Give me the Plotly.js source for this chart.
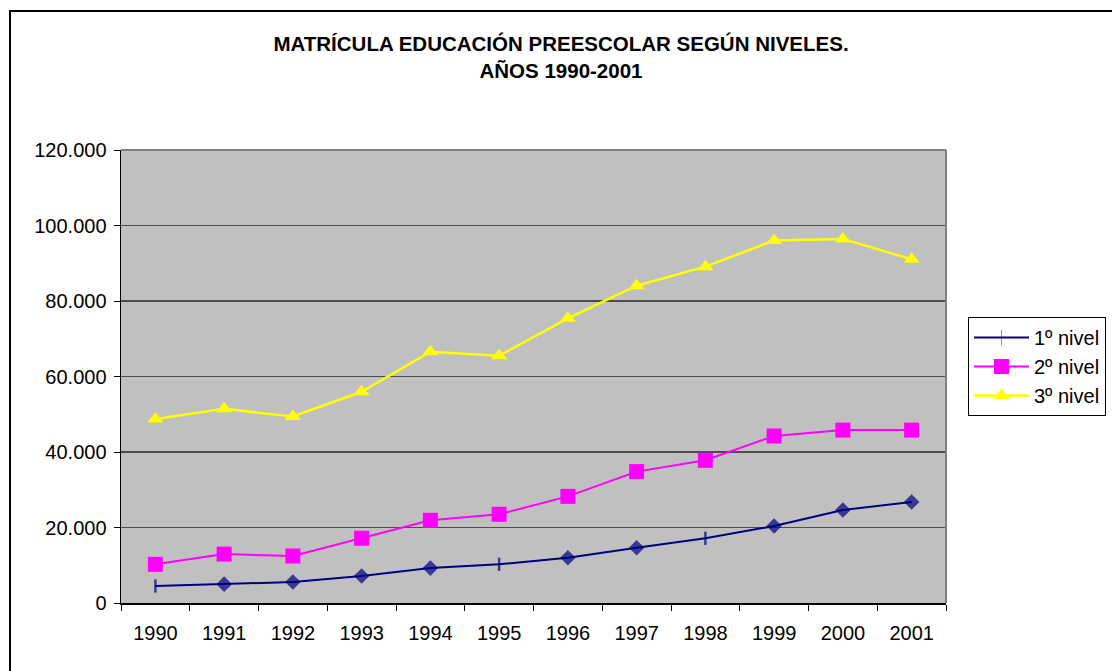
<!DOCTYPE html>
<html>
<head>
<meta charset="utf-8">
<script src="https://cdn.plot.ly/plotly-3.0.1.min.js"></script>
<style>
html,body{margin:0;padding:0;background:#fff;}
#chart{width:1112px;height:671px;}
</style>
</head>
<body>
<div id="chart"></div>
<script>
const years = ['1990','1991','1992','1993','1994','1995','1996','1997','1998','1999','2000','2001'];
const nivel1 = [4500, 5000, 5550, 7150, 9250, 10250, 12000, 14650, 17150, 20400, 24650, 26750];
const nivel2 = [10250, 12950, 12450, 17150, 21900, 23500, 28250, 34800, 37800, 44250, 45800, 45800];
const nivel3 = [48750, 51450, 49400, 55950, 66550, 65500, 75400, 84050, 89100, 96000, 96450, 91050];
const seriesNames = ['1º nivel', '2º nivel', '3º nivel'];
const nivel1Symbols = ['line-ns','diamond','diamond','diamond','diamond','line-ns','diamond','diamond','line-ns','diamond','diamond','diamond'];
const titleText = 'MATRÍCULA EDUCACIÓN PREESCOLAR SEGÚN NIVELES.<br>AÑOS 1990-2001';

const L = 121, R = 946, T = 150, B = 603, W = 1112, H = 671;
const pw = R - L, ph = B - T;
const px = v => (v - L) / pw;
const py = v => 1 - (v - T) / ph;
const FONT = 'Liberation Sans, Arial, sans-serif';

const traces = [
  {
    x: years, y: nivel1, name: seriesNames[0], type: 'scatter', mode: 'lines+markers',
    line: {color: '#000080', width: 2},
    marker: {
      color: '#000080',
      symbol: nivel1Symbols,
      size: nivel1Symbols.map(s => s === 'line-ns' ? 9.5 : 12),
      line: {color: '#000080', width: nivel1Symbols.map(s => s === 'line-ns' ? 2.5 : 0)}
    }
  },
  {
    x: years, y: nivel2, name: seriesNames[1], type: 'scatter', mode: 'lines+markers',
    line: {color: '#FF00FF', width: 2},
    marker: {color: '#FF00FF', symbol: 'square', size: 15, line: {width: 0}}
  },
  {
    x: years, y: nivel3, name: seriesNames[2], type: 'scatter', mode: 'lines+markers',
    line: {color: '#FFFF00', width: 2.5},
    marker: {color: '#FFFF00', symbol: 'triangle-up', size: 14, line: {width: 0}}
  }
];

const layout = {
  width: W, height: H,
  margin: {l: L, r: W - R, t: T, b: H - B, pad: 0, autoexpand: false},
  paper_bgcolor: '#ffffff',
  plot_bgcolor: '#C0C0C0',
  separators: ',.',
  font: {family: FONT, color: '#000', size: 20},
  title: {
    text: titleText,
    font: {family: FONT, size: 20.5, color: '#000', weight: 'bold'},
    x: 561 / W, xanchor: 'center', xref: 'container',
    y: 1 - 51 / H, yanchor: 'top', yref: 'container'
  },
  showlegend: true,
  legend: {
    xref: 'container', yref: 'container',
    x: 968 / W, xanchor: 'left', y: 1 - 317 / H, yanchor: 'top',
    bordercolor: '#000', borderwidth: 1, bgcolor: '#ffffff',
    font: {size: 20, family: FONT, color: '#000'},
    itemwidth: 55, tracegroupgap: 0
  },
  xaxis: {
    type: 'category',
    range: [-0.5, 11.5],
    autorange: false,
    tickson: 'boundaries',
    ticks: 'outside', ticklen: 6, tickwidth: 1, tickcolor: '#000',
    showline: true, linecolor: '#000', linewidth: 1.5,
    showgrid: false, zeroline: false,
    ticklabelstandoff: 11,
    tickfont: {size: 20},
    fixedrange: true
  },
  yaxis: {
    range: [0, 120000], autorange: false, dtick: 20000, tick0: 0,
    tickformat: ',d',
    ticks: 'outside', ticklen: 6, tickwidth: 1, tickcolor: '#000',
    showline: true, linecolor: '#000', linewidth: 1.5,
    showgrid: true, gridcolor: '#4d4d4d', gridwidth: 1.4,
    zeroline: false,
    ticklabelstandoff: 3,
    tickfont: {size: 20},
    fixedrange: true
  },
  shapes: [
    {type: 'line', xref: 'paper', yref: 'paper', x0: 0, x1: 1, y0: 1, y1: 1, line: {color: '#808080', width: 2}},
    {type: 'line', xref: 'paper', yref: 'paper', x0: 1, x1: 1, y0: 0, y1: 1, line: {color: '#808080', width: 2}},
    {type: 'rect', xref: 'paper', yref: 'paper', x0: px(10), x1: px(1130), y0: py(700), y1: py(11), line: {color: '#000', width: 2}, fillcolor: 'rgba(0,0,0,0)'}
  ]
};

Plotly.newPlot('chart', traces, layout, {displayModeBar: false, staticPlot: true});
</script>
</body>
</html>
